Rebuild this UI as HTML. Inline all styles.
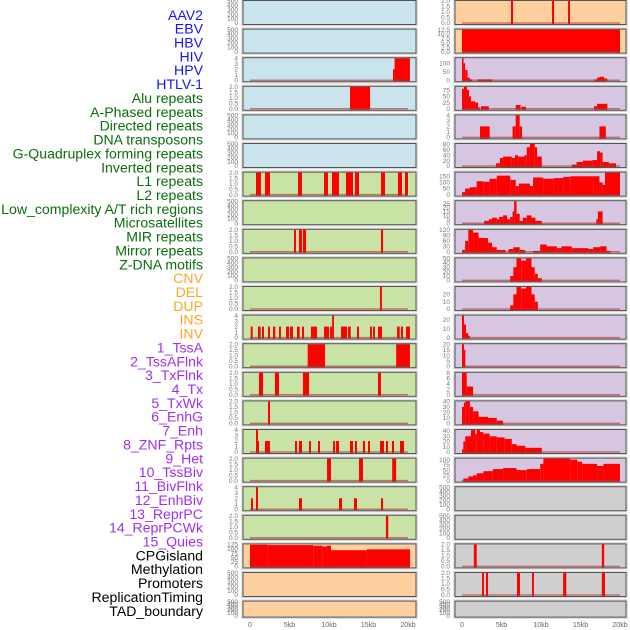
<!DOCTYPE html>
<html><head><meta charset="utf-8"><style>
html,body{margin:0;padding:0;background:#fff;}
svg{display:block;font-family:"Liberation Sans",sans-serif;}
</style></head><body>
<svg id="chart" width="630" height="630" viewBox="0 0 630 630" xmlns="http://www.w3.org/2000/svg"></svg>
<script>
// ---- labels ----
const labelTexts = ["AAV2","EBV","HBV","HIV","HPV","HTLV-1","Alu repeats","A-Phased repeats","Directed repeats","DNA transposons","G-Quadruplex forming repeats","Inverted repeats","L1 repeats","L2 repeats","Low_complexity A/T rich regions","Microsatellites","MIR repeats","Mirror repeats","Z-DNA motifs","CNV","DEL","DUP","INS","INV","1_TssA","2_TssAFlnk","3_TxFlnk","4_Tx","5_TxWk","6_EnhG","7_Enh","8_ZNF_Rpts","9_Het","10_TssBiv","11_BivFlnk","12_EnhBiv","13_ReprPC","14_ReprPCWk","15_Quies","CPGisland","Methylation","Promoters","ReplicationTiming","TAD_boundary"];
const labelGroups = ["v","v","v","v","v","v","r","r","r","r","r","r","r","r","r","r","r","r","r","c","c","c","c","c","h","h","h","h","h","h","h","h","h","h","h","h","h","h","h","k","k","k","k","k"];
const groupColors = {v:"#1414ff",r:"#0a6e0a",c:"#ffa520",h:"#a030f0",k:"#000000"};

// ---- left column panels ----
const leftBg = ["b","b","b","b","b","b","g","g","g","g","g","g","g","g","g","g","g","g","g","o","o","o"];
const leftTicks = [
 [0,100,200,300,400,500],[0,100,200,300,400,500],[0,1,2,3,4],[0,0.5,1,1.5,2],[0,100,200,300,400,500],[0,100,200,300,400,500],
 [0,0.5,1,1.5,2],[0,100,200,300,400,500],[0,0.5,1,1.5,2],[0,100,200,300,400,500],[0,0.5,1,1.5,2],[0,1,2,3,4],
 [0,0.5,1,1.5,2],[0,0.5,1,1.5,2],[0,0.5,1,1.5,2],[0,1,2,3,4],[0,0.5,1,1.5,2],[0,1,2,3,4],[0,0.5,1,1.5,2],
 [0,25,50,75,100,125],[0,100,200,300,400,500],[0,100,200,300,400,500]];
const leftSegs = [
 [],[],
 [[18.1,18.3,2],[18.3,20.25,4]],
 [[12.66,15.2,2]],
 [],[],
 [[0.76,1.39,2],[1.9,2.53,2],[6.08,6.58,2],[9.37,9.87,2],[10.38,11.27,2],[12.15,13.04,2],[13.29,13.8,2],[16.58,17.09,2],[18.73,19.24,2],[19.62,20,2]],
 [],
 [[5.57,5.82,2],[6.2,6.58,2],[6.7,7.1,2],[16.58,16.84,2]],
 [],
 [[16.45,16.7,2]],
 [[0.09,0.34,2],[1.01,1.35,2],[1.52,1.77,2],[2.28,2.53,2],[2.91,3.2,2],[3.67,3.92,2],[4.56,4.94,2],[5.06,5.44,2],[5.95,6.29,2],[6.58,6.84,2],[7.72,8.48,2],[9.37,10,2],[10.13,10.4,2],[10.4,10.63,4],[11.52,12.28,2],[12.41,12.75,2],[13.54,13.8,2],[15.19,15.44,2],[15.57,15.82,2],[16.2,16.71,2],[18.61,18.95,2],[19.11,19.37,2],[19.75,20.25,2]],
 [[7.3,9.5,2],[18.5,20.25,2]],
 [[1.14,1.65,2],[3.16,3.67,2],[6.7,7.47,2],[16.2,16.58,2]],
 [[2.28,2.53,2]],
 [[0.76,1.01,4],[1.01,1.14,2],[1.9,2.53,2],[5.7,5.95,2],[6.2,6.58,2],[7.47,7.72,2],[8.61,8.86,2],[10.51,10.76,2],[10.89,11.27,2],[12.66,13.04,2],[13.29,13.54,2],[14.3,14.56,2],[14.94,15.19,2],[16.46,16.96,2],[17.22,17.47,2],[17.97,18.23,2],[18.99,19.49,2]],
 [[9.75,10.25,2],[13.8,14.3,2],[18,18.5,2]],
 [[0.13,0.38,2],[0.76,1.01,4],[6.2,6.58,2],[11.27,11.65,2],[13.16,13.54,2],[16.58,16.84,2]],
 [[17.2,17.5,2]],
 [[0,2.2,123],[2.2,8,121],[8,9.2,118],[9.2,9.75,113],[9.75,10.25,118],[10.25,14.8,92],[14.8,20.25,97]],
 [],[]];

// ---- right column panels ----
const rightBg = ["o","o","p","p","p","p","p","p","p","p","p","p","p","p","p","p","p","y","y","y","y","y"];
const rightTicks = [
 [0,0.5,1,1.5,2],[0,2.5,5,7.5,10,12.5],[0,50,100],[0,25,50,75],[0,1,2,3,4],[0,20,40,60,80],
 [0,50,100,150],[0,5,10,15,20,25],[0,30,60,90,120],[0,10,20,30,40,50],[0,10,20],[0,10,20],
 [0,5,10,15,20],[0,2,4,6,8],[0,10,20,30,40],[0,10,20,30,40],[0,25,50,75,100],
 [0,100,200,300,400,500],[0,100,200,300,400,500],[0,0.5,1,1.5,2],[0,0.5,1,1.5,2],[0,100,200,300,400,500]];
const rightSegs = [
 [[6.2,6.46,2],[11.39,11.65,2],[13.42,13.67,2]],
 [[0,20,12.5]],
 [[0,0.2,130],[0.2,0.4,100],[0.4,0.7,60],[0.7,1,15],[1,1.3,5],[2,3.8,5],[16.7,17.1,5],[17.1,17.4,15],[17.4,18,20],[18,18.4,10]],
 [[0,0.25,80],[0.25,0.63,88],[0.63,0.89,75],[0.89,1.14,50],[1.14,1.65,30],[1.65,2.03,25],[2.03,2.28,5],[2.4,3.4,10],[6.8,7.4,15],[7.5,8.1,8],[16.7,17.1,10],[17.1,18.4,20]],
 [[2.28,3.5,2],[6.4,6.8,2],[6.8,7.3,4],[7.3,7.6,2],[17.4,18.2,2]],
 [[4.3,4.8,10],[4.8,5.2,30],[5.2,6.3,35],[6.3,6.7,30],[6.7,7.1,40],[7.1,7.9,35],[7.9,8.2,40],[8.2,8.6,70],[8.6,9.2,82],[9.2,9.5,70],[9.5,10.1,35],[13.9,14.5,5],[14.5,15.3,15],[15.3,16.5,20],[16.5,17.1,22],[17.1,17.5,55],[17.5,17.8,50],[17.8,18.6,15],[18.6,19.5,10]],
 [[0,0.4,20],[0.4,1,50],[1,1.86,60],[1.86,2.7,110],[2.7,3.5,105],[3.5,4.4,130],[4.4,6.1,155],[6.1,6.8,120],[6.8,7.2,70],[7.2,8.6,90],[8.6,9,70],[9,10.3,140],[10.3,11.6,130],[11.6,12.8,135],[12.8,13.7,145],[13.7,16.6,150],[16.6,17.4,150],[17.4,17.8,100],[17.8,18.1,80],[18.1,20,180]],
 [[2.8,3.4,3],[3.4,3.8,5],[3.8,4.4,7],[4.4,4.7,5],[4.7,5.2,8],[5.2,5.7,10],[5.7,6.1,5],[6.1,6.4,8],[6.4,6.6,15],[6.6,6.9,28],[6.9,7.3,12],[7.3,7.7,3],[7.7,8.2,7],[8.2,8.8,10],[8.8,9.3,7],[9.3,10.1,3],[17,17.2,5],[17.2,17.8,15]],
 [[0,0.4,10],[0.4,0.8,60],[0.8,1.4,120],[1.4,2.1,105],[2.1,3.3,75],[3.3,3.8,50],[3.8,4.4,25],[4.4,5.5,10],[5.9,6.5,15],[6.5,7.3,25],[7.3,8,10],[9,9.9,5],[9.9,10.7,40],[10.7,12,30],[12,12.6,20],[12.6,13.9,30],[13.9,16,20],[16,16.6,15],[16.6,17.5,25],[17.5,18.3,30],[18.3,18.8,5]],
 [[6.1,6.5,10],[6.5,6.9,30],[6.9,7.5,50],[7.5,8.1,45],[8.1,8.8,50],[8.8,9.2,30],[9.2,9.6,15],[9.6,10.1,5]],
 [[6.1,6.5,5],[6.5,6.9,20],[6.9,7.5,30],[7.5,8.1,28],[8.1,8.8,30],[8.8,9.2,20],[9.2,9.6,10]],
 [[0,0.25,25],[0.25,0.5,15],[0.5,0.8,5],[0.8,1,2]],
 [[0,0.25,20],[0.25,0.42,15]],
 [[0,0.6,8],[0.6,1.4,3]],
 [[0,0.25,30],[0.25,0.42,38],[0.42,1,40],[1,1.4,30],[1.4,2.1,22],[2.1,3.3,12],[3.3,4.4,10],[4.4,5.2,5]],
 [[0,0.17,5],[0.17,0.42,20],[0.42,1.14,30],[1.14,1.65,42],[1.65,1.86,35],[1.86,2.28,42],[2.28,2.7,38],[2.7,3.5,35],[3.5,4.4,30],[4.4,5.4,28],[5.4,6.3,25],[6.3,6.9,15],[6.9,8,12],[8,10.1,8]],
 [[0.17,0.8,10],[0.8,1.4,20],[1.4,1.86,25],[1.86,2.7,35],[2.7,3.9,45],[3.9,5.2,55],[5.2,6.9,60],[6.9,8.2,50],[8.2,9.9,55],[9.9,10.3,80],[10.3,13.7,105],[13.7,14.6,100],[14.6,15.2,90],[15.2,17.1,80],[17.1,17.9,70],[17.9,20,80]],
 [],[],
 [[1.5,1.86,2],[17.7,18,2]],
 [[2.53,2.78,2],[3.04,3.3,2],[6.96,7.34,2],[8.86,9.1,2],[12.8,13.2,2],[17.7,18.1,2]],
 []];

const xTicks = [0,5,10,15,20];
const xTickLabels = ["0","5kb","10kb","15kb","20kb"];
const bgColors = {b:"#c9e4ec",g:"#c9e2a5",o:"#fed09f",p:"#d6c6e2",y:"#cfcfcf"};

const NS = "http://www.w3.org/2000/svg";
const svg = document.getElementById("chart");
function mk(tag, attrs, parent){
  const e = document.createElementNS(NS, tag);
  for (const k in attrs) e.setAttribute(k, attrs[k]);
  (parent||svg).appendChild(e);
  return e;
}
// labels
labelTexts.forEach((t,i)=>{
  const e = mk("text",{x:203,y:19.8+i*13.86,"text-anchor":"end","font-size":"14.1",fill:groupColors[labelGroups[i]]});
  e.textContent = t;
  
  
});

const rowStep = 28.6;
function drawColumn(bgs, ticks, segs, boxX0, boxX1, zeroX, twentyX, colName){
  const xs = kb => zeroX + (twentyX-zeroX)*kb/20;
  bgs.forEach((bg,i)=>{
    const top = 0.5 + i*rowStep;
    const h = (i===bgs.length-1) ? 16 : 24;
    const g = mk("g",{});
    
    
    mk("rect",{x:boxX0-1,y:top-1,width:boxX1-boxX0+2,height:h+2,fill:"none",stroke:"#d8d8d8","stroke-width":1.5},g);
    mk("rect",{x:boxX0,y:top,width:boxX1-boxX0,height:h,fill:bgColors[bg]},g);
    const tk = ticks[i];
    const sg = segs[i];
    let ymax = tk[tk.length-1];
    sg.forEach(s=>{ if (s[2]>ymax) ymax=s[2]; });
    const y0 = top + h - 1.5, y1 = top + 0.5;
    const ys = v => y0 - (y0-y1)*v/ymax;
    sg.forEach(s=>{
      const r = mk("rect",{x:xs(s[0]),y:ys(s[2]),width:Math.max(0.8,xs(s[1])-xs(s[0])),height:y0-ys(s[2])+1,fill:"#ff0000"},g);
      
      
    });
    if (sg.length) mk("line",{x1:xs(0),x2:xs(20),y1:y0,y2:y0,stroke:"#b03030","stroke-opacity":0.6,"stroke-width":1.5},g);
    mk("rect",{x:boxX0,y:top,width:boxX1-boxX0,height:h,fill:"none",stroke:"#555","stroke-width":1},g);
    tk.forEach(v=>{
      const t = mk("text",{x:boxX0-5,y:ys(v)+2.2,"text-anchor":"end","font-size":"6.5",fill:"#777"},g);
      t.textContent = (tk[tk.length-1]<=2 && tk.length===5 && tk[1]===0.5) ? v.toFixed(1) : (tk[1]===2.5 ? v.toFixed(1) : String(v));
      
      
    });
  });
  xTicks.forEach((v,i)=>{
    const t = mk("text",{x:xs(v),y:627,"text-anchor":"middle","font-size":"7",fill:"#666"});
    t.textContent = xTickLabels[i];
    
    
  });
}
drawColumn(leftBg, leftTicks, leftSegs, 243, 416, 250, 408, "left");
drawColumn(rightBg, rightTicks, rightSegs, 455, 626, 462, 620, "right");
</script>
</body></html>
